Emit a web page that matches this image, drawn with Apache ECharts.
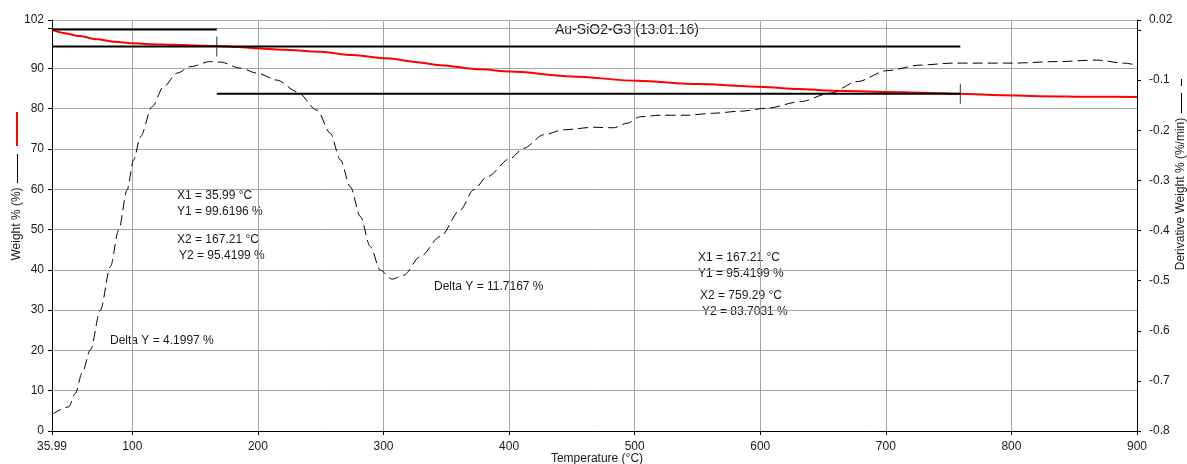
<!DOCTYPE html>
<html><head><meta charset="utf-8">
<script src="https://cdn.jsdelivr.net/npm/echarts@6/dist/echarts.min.js"></script>
<style>html,body{margin:0;padding:0;background:#fff}#c{width:1187px;height:464px}</style>
</head><body><div id="c"></div>
<script>
const xTicks = [35.99, 100, 200, 300, 400, 500, 600, 700, 800, 900];
const weightT = [35.99,45,58,72,86,100,116,133,150,167,185,197,220,250,275,303,325,345,377,401,450,502,550,602,630,658,700,730,759,785,823,865,900];
const weightV = [99.6,98.8,98.0,97.2,96.6,96.2,96.0,95.85,95.7,95.55,95.3,95.0,94.6,94.1,93.3,92.5,91.6,90.8,89.75,89.2,88.0,86.9,86.1,85.4,84.9,84.45,84.15,83.95,83.7,83.4,83.1,82.95,82.9];
const derivT = [35.99,49.2,54.6,60.0,66.6,74.5,82.5,89.1,95.8,101.0,106.4,115.7,124.9,135.6,146.2,162.1,170.1,186.0,199.3,215.2,231.1,247.1,257.6,265.6,273.6,281.5,289.5,297.4,306.8,316.0,329.3,345.2,361.1,371.7,382.4,401.0,411.5,427.5,443.4,467.3,483.2,493.9,504.5,520.4,541.6,562.8,584.0,605.3,631.8,655.7,677.0,700.9,727.3,753.6,801.4,836.2,868.0,889.0,900];
const derivV = [-0.767,-0.752,-0.725,-0.684,-0.638,-0.559,-0.472,-0.399,-0.319,-0.259,-0.213,-0.153,-0.113,-0.086,-0.073,-0.063,-0.064,-0.076,-0.086,-0.100,-0.123,-0.160,-0.206,-0.259,-0.313,-0.372,-0.432,-0.479,-0.497,-0.489,-0.452,-0.412,-0.359,-0.319,-0.293,-0.256,-0.236,-0.209,-0.199,-0.194,-0.195,-0.186,-0.173,-0.170,-0.170,-0.166,-0.162,-0.156,-0.143,-0.126,-0.103,-0.081,-0.070,-0.066,-0.066,-0.063,-0.060,-0.066,-0.070];
const stepX1 = [35.99, 167.21];
const stepY1 = [99.6196, 95.4199];
const stepX2 = [167.21, 759.29];
const stepY2 = [95.4199, 83.7031];
const stepDelta = ['4.1997', '11.7167'];
const titleText = 'Au-SiO2-G3 (13.01.16)';
const xName = 'Temperature (°C)';
const yLeftName = 'Weight % (%)';
const yRightName = 'Derivative Weight % (%/min)';

const FONT = '"Liberation Sans", Arial, sans-serif';
const TXT = '#1a1a1a';
const chart = echarts.init(document.getElementById('c'), null, {renderer: 'canvas'});

const series = [
  {
    type: 'line', name: 'Weight', yAxisIndex: 0, z: 2,
    data: weightT.map((t, i) => [t, weightV[i]]),
    symbol: 'none', smooth: 0.3, smoothMonotone: 'x',
    lineStyle: {color: '#ff0000', width: 2}, silent: true
  },
  {
    type: 'line', name: 'Deriv', yAxisIndex: 1, z: 3,
    data: derivT.map((t, i) => [t, derivV[i]]),
    symbol: 'none', smooth: 0.3, smoothMonotone: 'x',
    lineStyle: {color: '#000', width: 1, type: [10, 5]}, silent: true
  }
];
stepX1.forEach((x1, i) => {
  const x2 = stepX2[i];
  [stepY1[i], stepY2[i]].forEach(y => {
    series.push({
      type: 'line', yAxisIndex: 0, z: 4, symbol: 'none', silent: true,
      data: [[x1, y], [x2, y]],
      lineStyle: {color: '#000', width: 2}
    });
  });
  series.push({
    type: 'scatter', yAxisIndex: 0, z: 5, silent: true,
    data: [[x2, stepY2[i]]],
    symbol: 'rect', symbolSize: [1, 20],
    itemStyle: {color: '#000'}
  });
});

function txt(x, y, s, extra) {
  return Object.assign({
    type: 'text', x: x, y: y, silent: true,
    style: {text: s, font: '12px ' + FONT, fill: TXT, align: 'left', verticalAlign: 'middle'}
  }, extra || {});
}

const graphics = [
  txt(627, 30, titleText, {style: {text: titleText, font: '14px ' + FONT, fill: TXT, align: 'center', verticalAlign: 'middle'}}),
  txt(177, 196, 'X1 = ' + stepX1[0] + ' °C'),
  txt(177, 212, 'Y1 = ' + stepY1[0] + ' %'),
  txt(177, 240, 'X2 = ' + stepX2[0] + ' °C'),
  txt(179, 256, 'Y2 = ' + stepY2[0] + ' %'),
  txt(110, 341, 'Delta Y = ' + stepDelta[0] + ' %'),
  txt(434, 287, 'Delta Y = ' + stepDelta[1] + ' %'),
  txt(698, 258, 'X1 = ' + stepX1[1] + ' °C'),
  txt(698, 274, 'Y1 = ' + stepY1[1] + ' %'),
  txt(700, 296, 'X2 = ' + stepX2[1] + ' °C'),
  txt(702, 312, 'Y2 = ' + stepY2[1] + ' %'),
  txt(597, 459, xName, {style: {text: xName, font: '12px ' + FONT, fill: TXT, align: 'center', verticalAlign: 'middle'}}),
  txt(17, 224, yLeftName, {rotation: Math.PI / 2, style: {text: yLeftName, font: '12px ' + FONT, fill: TXT, align: 'center', verticalAlign: 'middle'}}),
  {type: 'rect', silent: true, shape: {x: 16, y: 112, width: 2, height: 34}, style: {fill: '#ff0000'}},
  {type: 'line', silent: true, shape: {x1: 17.5, y1: 154, x2: 17.5, y2: 183}, style: {stroke: '#000', lineWidth: 1}},
  txt(1181, 194, yRightName, {rotation: Math.PI / 2, style: {text: yRightName, font: '12px ' + FONT, fill: TXT, align: 'center', verticalAlign: 'middle'}}),
  {type: 'line', silent: true, shape: {x1: 1181.5, y1: 93, x2: 1181.5, y2: 113}, style: {stroke: '#000', lineWidth: 1}},
  {type: 'line', silent: true, shape: {x1: 1181.5, y1: 79, x2: 1181.5, y2: 86}, style: {stroke: '#000', lineWidth: 1}}
];

chart.setOption({
  animation: false,
  backgroundColor: '#fff',
  grid: {left: 52, right: 50, top: 20, bottom: 33, containLabel: false},
  xAxis: {
    type: 'value', min: 35.99, max: 900,
    axisLine: {lineStyle: {color: '#000', width: 1}},
    axisTick: {show: true, length: 4, customValues: xTicks, lineStyle: {color: '#000'}},
    axisLabel: {customValues: xTicks, color: TXT, fontSize: 12, fontFamily: FONT, margin: 10,
      formatter: v => (Math.abs(v - 35.99) < 1e-6 ? '35.99' : String(Math.round(v)))},
    splitLine: {show: true, lineStyle: {color: '#a6a6a6', width: 1}}
  },
  yAxis: [
    {
      type: 'value', position: 'left', min: 0, max: 102, interval: 10,
      axisLine: {show: true, lineStyle: {color: '#000'}},
      axisTick: {show: true, length: 4, lineStyle: {color: '#000'}},
      axisLabel: {color: TXT, fontSize: 12, fontFamily: FONT, margin: 8,
        formatter: v => (v === 100 ? '' : String(v)), showMaxLabel: true, showMinLabel: true},
      splitLine: {show: true, lineStyle: {color: '#a6a6a6', width: 1}}
    },
    {
      type: 'value', position: 'right', min: -0.8, max: 0.02, interval: 0.1,
      axisLine: {show: true, lineStyle: {color: '#000'}},
      axisTick: {show: true, length: 4, lineStyle: {color: '#000'}},
      axisLabel: {color: TXT, fontSize: 12, fontFamily: FONT, margin: 12, showMaxLabel: true, showMinLabel: true,
        formatter: v => {
          if (Math.abs(v) < 1e-9) return '';
          if (Math.abs(v - 0.02) < 1e-9) return '0.02';
          return v.toFixed(1);
        }},
      splitLine: {show: false}
    }
  ],
  series: series,
  graphic: graphics
});
</script>
</body></html>
